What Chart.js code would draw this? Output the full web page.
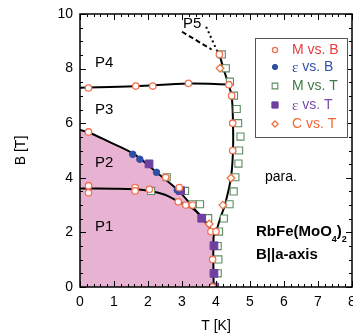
<!DOCTYPE html>
<html>
<head>
<meta charset="utf-8">
<script src="https://cdn.jsdelivr.net/npm/chart.js@4.4.1/dist/chart.umd.min.js"></script>
<style>
  html, body { margin: 0; padding: 0; background: #fff; }
</style>
</head>
<body>
<canvas id="chart" width="353" height="336"></canvas>
<script>
// axis ticks
const xTicks = [0, 1, 2, 3, 4, 5, 6, 7, 8];
const yTicks = [0, 2, 4, 6, 8, 10];

// M vs. B (open circles)
const mbT = [0.25, 0.25, 0.25, 0.25, 1.64, 2.14, 3.19, 4.38, 4.10, 4.46, 4.49, 4.49,
  1.62, 1.62, 2.04, 2.52, 2.92, 2.89, 3.11, 3.31, 3.85, 4.00, 3.90, 3.90];
const mbB = [7.29, 5.68, 3.71, 3.45, 7.36, 7.36, 7.46, 7.41, 8.52, 7.01, 6.00, 5.00,
  3.64, 3.52, 3.58, 4.02, 3.64, 3.12, 3.00, 3.00, 2.03, 2.03, 1.01, 0.00];

// eps vs. B (filled circles)
const ebT = [1.55, 1.76, 2.25, 2.86];
const ebB = [4.86, 4.68, 4.20, 3.55];

// M vs. T (open squares)
const mtT = [4.17, 4.29, 4.41, 4.53, 4.61, 4.65, 4.72, 4.68, 4.66, 4.57, 4.52, 4.40, 4.23,
  4.09, 4.05, 4.07, 4.05, 2.09, 2.55, 3.09, 3.31, 3.53, 3.77];
const mtB = [8.52, 8.01, 7.52, 7.01, 6.52, 6.00, 5.51, 5.00, 4.52, 4.02, 3.50, 3.03, 2.51,
  2.03, 1.50, 1.01, 0.50, 3.52, 4.02, 3.52, 3.03, 3.03, 2.52];

// eps vs. T (filled squares)
const etT = [2.03, 2.96, 3.58, 3.94, 3.94, 3.96];
const etB = [4.51, 3.53, 2.52, 1.51, 0.50, 0.00];

// C vs. T (open diamonds)
const ctT = [4.12, 4.44, 4.20, 3.80];
const ctB = [8.01, 3.99, 3.00, 2.31];

// phase boundaries
const p34T = [0, 1.6, 3.2, 4.38];
const p34B = [7.30, 7.35, 7.45, 7.42];
const upperT = [0, 0.24, 0.8, 1.6, 2.25, 2.9, 3.5, 3.87, 4.0];
const upperB = [5.75, 5.67, 5.35, 4.86, 4.20, 3.52, 2.66, 2.09, 2.03];
const lowerT = [0, 1.0, 1.6, 2.06, 2.5, 2.89, 3.11, 3.31, 3.55, 3.75];
const lowerB = [3.61, 3.60, 3.58, 3.52, 3.38, 3.13, 3.00, 2.88, 2.62, 2.35];
const rightT = [4.02, 4.10, 4.22, 4.36, 4.46, 4.50, 4.50, 4.44, 4.26, 4.12, 4.00, 3.93, 3.93];
const rightB = [8.68, 8.50, 8.00, 7.45, 7.00, 6.00, 5.00, 4.00, 3.00, 2.50, 2.03, 1.85, 0];
const dotT = [3.71, 4.02];
const dotB = [9.53, 8.68];
const p5T = [3.0, 3.87];
const p5B = [9.35, 8.70];

const FONT = "'Liberation Sans', Arial, sans-serif";
const pts = (xs, ys) => xs.map((x, i) => ({ x: x, y: ys[i] }));

function lineSet(xs, ys, extra) {
  return Object.assign({
    data: pts(xs, ys),
    showLine: true,
    borderColor: "#000",
    borderWidth: 2,
    pointRadius: 0,
    tension: 0.35,
    fill: false,
    order: 5,
  }, extra || {});
}

const markers = {
  mb: { pointStyle: "circle", pointRadius: 3.2, borderColor: "#f07052", backgroundColor: "#fff", borderWidth: 1.3 },
  eb: { pointStyle: "circle", pointRadius: 3.3, borderColor: "#2f4fa5", backgroundColor: "#2f4fa5", borderWidth: 1 },
  mt: { pointStyle: "rect", pointRadius: 5, borderColor: "#5f8c60", backgroundColor: "#fff", borderWidth: 1.1 },
  et: { pointStyle: "rect", pointRadius: 5.5, borderColor: "#6e40a0", backgroundColor: "#6e40a0", borderWidth: 1 },
  ct: { pointStyle: "rectRot", pointRadius: 3.8, borderColor: "#f07040", backgroundColor: "#fff", borderWidth: 1.3 },
};

function markerSet(key, xs, ys, order) {
  const m = markers[key];
  return {
    data: pts(xs, ys),
    showLine: false,
    pointStyle: m.pointStyle,
    pointRadius: m.pointRadius,
    pointBorderColor: m.borderColor,
    pointBackgroundColor: m.backgroundColor,
    pointBorderWidth: m.borderWidth,
    order: order,
  };
}

const legendRows = [
  { key: "mb", eps: false, text: "M vs. B", color: "#e63c3c", y: 50 },
  { key: "eb", eps: true, text: " vs. B", color: "#3553a5", y: 67 },
  { key: "mt", eps: false, text: "M vs. T", color: "#3f7a48", y: 86 },
  { key: "et", eps: true, text: " vs. T", color: "#7a4ca5", y: 105 },
  { key: "ct", eps: false, text: "C vs. T", color: "#f06a35", y: 124 },
];

const decor = {
  id: "decor",
  afterDraw(chart) {
    const { ctx, chartArea: a, scales } = chart;
    const x = scales.x, y = scales.y;
    ctx.save();
    // frame + inward ticks
    ctx.strokeStyle = "#000";
    ctx.lineWidth = 1.5;
    ctx.strokeRect(a.left, a.top, a.right - a.left, a.bottom - a.top);
    ctx.lineWidth = 1;
    ctx.beginPath();
    for (let i = 0; i <= 40; i++) {
      const px = Math.round(x.getPixelForValue(i * 0.2)) + 0.5;
      const len = i % 5 === 0 ? 6 : 3;
      ctx.moveTo(px, a.bottom); ctx.lineTo(px, a.bottom - len);
      ctx.moveTo(px, a.top); ctx.lineTo(px, a.top + len);
    }
    for (let i = 0; i <= 20; i++) {
      const py = Math.round(y.getPixelForValue(i * 0.5)) + 0.5;
      const len = i % 4 === 0 ? 6 : 3;
      ctx.moveTo(a.left, py); ctx.lineTo(a.left + len, py);
      ctx.moveTo(a.right, py); ctx.lineTo(a.right - len, py);
    }
    ctx.stroke();

    // axis titles
    ctx.fillStyle = "#000";
    ctx.font = "14px " + FONT;
    ctx.textAlign = "center";
    ctx.textBaseline = "middle";
    ctx.fillText("T [K]", (a.left + a.right) / 2, 326);
    ctx.save();
    ctx.translate(21, (a.top + a.bottom) / 2);
    ctx.rotate(-Math.PI / 2);
    ctx.fillText("B [T]", 0, 0);
    ctx.restore();

    // phase labels
    ctx.textAlign = "left";
    ctx.font = "15px " + FONT;
    ctx.fillText("P4", 95, 63);
    ctx.fillText("P3", 95, 110);
    ctx.fillText("P2", 95, 163);
    ctx.fillText("P1", 95, 227);
    ctx.fillText("P5", 183, 24);
    ctx.font = "14px " + FONT;
    ctx.fillText("para.", 265, 177);

    // compound label
    ctx.font = "bold 15px " + FONT;
    let cx = 256;
    ctx.fillText("RbFe(MoO", cx, 232);
    cx += ctx.measureText("RbFe(MoO").width;
    ctx.font = "bold 9px " + FONT;
    ctx.fillText("4", cx, 240);
    cx += ctx.measureText("4").width;
    ctx.font = "bold 15px " + FONT;
    ctx.fillText(")", cx, 232);
    cx += ctx.measureText(")").width;
    ctx.font = "bold 9px " + FONT;
    ctx.fillText("2", cx, 240);
    ctx.font = "bold 15px " + FONT;
    ctx.fillText("B||a-axis", 256, 255);

    // legend box
    ctx.fillStyle = "#fff";
    ctx.fillRect(255, 38, 92, 99);
    ctx.strokeStyle = "#555";
    ctx.lineWidth = 1;
    ctx.strokeRect(255.5, 38.5, 92, 99);
    legendRows.forEach((r) => {
      const m = markers[r.key];
      ctx.strokeStyle = m.borderColor;
      ctx.fillStyle = m.backgroundColor;
      ctx.lineWidth = m.borderWidth;
      Chart.helpers.drawPoint(ctx, { pointStyle: m.pointStyle, radius: m.pointRadius * 0.8, borderWidth: m.borderWidth }, 275, r.y);
      ctx.fillStyle = r.color;
      let tx = 292;
      if (r.eps) {
        ctx.font = "15px 'Liberation Serif', serif";
        ctx.fillText("\u03b5", tx, r.y + 1);
        tx += ctx.measureText("\u03b5").width;
      }
      ctx.font = "14px " + FONT;
      ctx.fillText(r.text, tx, r.y);
    });
    ctx.restore();
  },
};

new Chart(document.getElementById("chart"), {
  type: "scatter",
  data: {
    datasets: [
      lineSet(upperT.concat([3.93, 3.93]), upperB.concat([1.85, 0]), {
        borderWidth: 0, borderColor: "rgba(0,0,0,0)", backgroundColor: "#e8b3d2",
        fill: "origin", tension: 0.3, order: 10,
      }),
      lineSet(p34T, p34B),
      lineSet(upperT, upperB),
      lineSet(lowerT, lowerB),
      lineSet(rightT, rightB),
      lineSet(dotT, dotB, { borderDash: [2, 3], tension: 0 }),
      lineSet(p5T, p5B, { borderDash: [5, 3], tension: 0 }),
      markerSet("mt", mtT, mtB, 4),
      markerSet("et", etT, etB, 3),
      markerSet("eb", ebT, ebB, 2),
      markerSet("ct", ctT, ctB, 1),
      markerSet("mb", mbT, mbB, 0),
    ],
  },
  options: {
    responsive: false,
    animation: false,
    devicePixelRatio: 1,
    layout: { autoPadding: false, padding: { top: 14, right: 1, left: 0, bottom: 0 } },
    plugins: { legend: { display: false }, tooltip: { enabled: false } },
    scales: {
      x: {
        type: "linear", min: 0, max: 8,
        afterBuildTicks: (s) => { s.ticks = xTicks.map((v) => ({ value: v })); },
        afterFit: (s) => { s.height = 49; s.paddingLeft = 0; s.paddingRight = 0; },
        grid: { display: false, drawTicks: false },
        border: { display: false },
        ticks: { color: "#000", padding: 7, font: { size: 14, family: FONT } },
      },
      y: {
        type: "linear", min: 0, max: 10,
        afterBuildTicks: (s) => { s.ticks = yTicks.map((v) => ({ value: v })); },
        afterFit: (s) => { s.width = 80; s.paddingTop = 0; s.paddingBottom = 0; },
        grid: { display: false, drawTicks: false },
        border: { display: false },
        ticks: { color: "#000", padding: 7, font: { size: 14, family: FONT } },
      },
    },
  },
  plugins: [decor],
});
</script>
</body>
</html>
